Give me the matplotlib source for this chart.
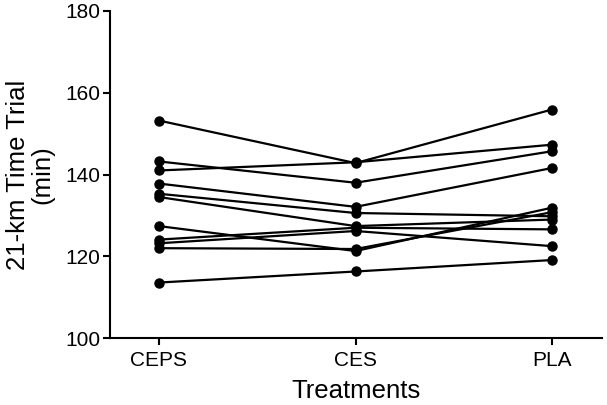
import matplotlib
matplotlib.use("Agg")
import matplotlib.pyplot as plt

treatments = ["CEPS", "CES", "PLA"]
ceps = [153.2, 143.2, 141.0, 137.8, 135.3, 134.5, 127.4, 124.1, 123.2, 122.0, 113.6]
ces  = [142.8, 138.0, 143.0, 132.1, 130.6, 127.4, 121.3, 127.0, 126.2, 121.8, 116.3]
pla  = [155.9, 145.7, 147.3, 141.6, 129.8, 129.0, 131.9, 126.6, 122.5, 130.8, 119.1]
yticks = [100, 120, 140, 160, 180]

plt.rcParams['font.family'] = ['Liberation Sans', 'DejaVu Sans']
fig = plt.figure(figsize=(6.07, 4.05), dpi=100)
ax = fig.add_axes([0.181, 0.165, 0.811, 0.808])

x = list(range(len(treatments)))
for a, b, c in zip(ceps, ces, pla):
    ax.plot(x, [a, b, c], color='black', lw=1.6, marker='o', ms=6.5,
            markerfacecolor='black', markeredgecolor='black', clip_on=False)

ax.set_xlim(-0.25, 2.255)
ax.set_ylim(100, 180)
ax.set_xticks(x)
ax.set_xticklabels(treatments, fontsize=15)
ax.set_yticks(yticks)
ax.set_yticklabels([str(v) for v in yticks], fontsize=15)
for s in ['top', 'right']:
    ax.spines[s].set_visible(False)
for s in ['left', 'bottom']:
    ax.spines[s].set_linewidth(1.5)
ax.tick_params(axis='both', direction='out', length=5, width=1.5, pad=2)
ax.tick_params(axis='x', pad=4)
ax.set_xlabel("Treatments", fontsize=18.5, labelpad=7)
ax.set_ylabel("21-km Time Trial\n(min)", fontsize=18.5, labelpad=8, linespacing=1.0)

fig.savefig("out.png", dpi=100)
